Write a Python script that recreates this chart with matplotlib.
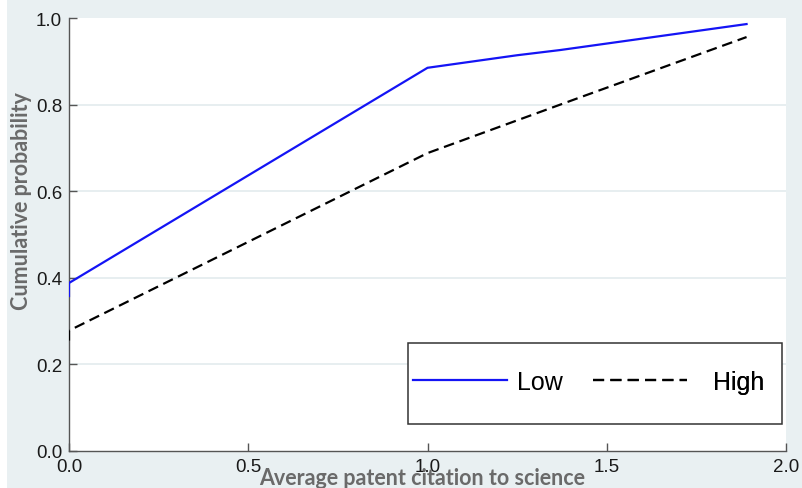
import matplotlib
matplotlib.use("Agg")
import matplotlib.pyplot as plt
from matplotlib.lines import Line2D
from matplotlib.patches import Rectangle

# Cumulative distribution of average patent citations to science
low_x = [0.0, 0.0, 1.0, 1.25, 1.37, 1.89]
low_y = [0.358, 0.388, 0.885, 0.914, 0.926, 0.986]
high_x = [0.0, 0.0, 1.0, 1.42, 1.89]
high_y = [0.255, 0.278, 0.688, 0.815, 0.956]

x_ticks = [0.0, 0.5, 1.0, 1.5, 2.0]
y_ticks = [0.0, 0.2, 0.4, 0.6, 0.8, 1.0]
series_names = ["Low", "High"]
x_label = "Average patent citation to science"
y_label = "Cumulative probability"

BG = "#e9f0f2"
GRID = "#e3ebee"
SPINE = "#555555"
LABEL_GRAY = "#6a6a6a"
BLUE = "#1414f5"

W, H = 802, 489
fig = plt.figure(figsize=(W / 100, H / 100), dpi=100, facecolor=BG)
fig.patches.append(Rectangle((0, 0), 7 / W, 1, transform=fig.transFigure,
                             facecolor="white", edgecolor="none", zorder=-1))

L, R, T, B = 69, 786, 19, 452
ax = fig.add_axes([L / W, 1 - B / H, (R - L) / W, (B - T) / H])
ax.set_facecolor("white")

ax.set_xlim(0, 2.0)
ax.set_ylim(0, 1.0)

for g in y_ticks[1:-1]:
    ax.axhline(g, color=GRID, lw=1.2, zorder=0)

ax.plot(low_x, low_y, color=BLUE, lw=1.6, zorder=3, solid_joinstyle="miter")
ax.plot(high_x, high_y, color="black", lw=1.6, zorder=3,
        dashes=(4.8, 2.6))

for side in ("top", "right"):
    ax.spines[side].set_visible(False)
for side in ("left", "bottom"):
    ax.spines[side].set_color(SPINE)
    ax.spines[side].set_linewidth(1.0)

tick_font = dict(family=["Liberation Sans", "DejaVu Sans"], size=13.5)
ax.set_xticks(x_ticks)
ax.set_yticks(y_ticks)
ax.set_xticklabels([f"{v:.1f}" for v in x_ticks], fontdict=tick_font, color="#1a1a1a")
ax.set_yticklabels([f"{v:.1f}" for v in y_ticks], fontdict=tick_font, color="#1a1a1a")
ax.tick_params(axis="both", direction="in", length=6, width=1, color=SPINE)
ax.tick_params(axis="x", pad=5)
ax.tick_params(axis="y", pad=5)

label_font = dict(family=["Lato", "DejaVu Sans"], weight="bold", color=LABEL_GRAY)
fig.text(422 / W, 1 - 479 / H, x_label, ha="center", va="center", fontsize=15.5, **label_font)
fig.text(22 / W, 1 - 201 / H, y_label, ha="center", va="center", rotation=90,
         fontsize=15.5, **label_font)

# Legend frame and entries
ax.add_patch(Rectangle(((408 - L) / (R - L), (B - 425) / (B - T)),
                       (782 - 408) / (R - L), (425 - 344) / (B - T),
                       transform=ax.transAxes, facecolor="white",
                       edgecolor="#333333", lw=1.1, zorder=4, clip_on=False))
legend_handles = [
    Line2D([], [], color=BLUE, lw=1.6),
    Line2D([], [], color="black", lw=1.6, dashes=(5.0, 2.8)),
]
legend_left = [413, 593]
legend_textpad = [0.4, 1.05]
legend_prop = dict(family=["Liberation Sans", "DejaVu Sans"], size=18)
for h, name, xl, tp in zip(legend_handles, series_names, legend_left, legend_textpad):
    leg = ax.legend([h], [name], frameon=False, loc="center left",
                    bbox_to_anchor=((xl - L) / (R - L), (B - 383) / (B - T)),
                    borderpad=0, borderaxespad=0, handlelength=3.75,
                    handletextpad=tp, prop=legend_prop)
    leg.set_zorder(5)
    ax.add_artist(leg)

fig.savefig("out.png", dpi=100, facecolor=BG)
